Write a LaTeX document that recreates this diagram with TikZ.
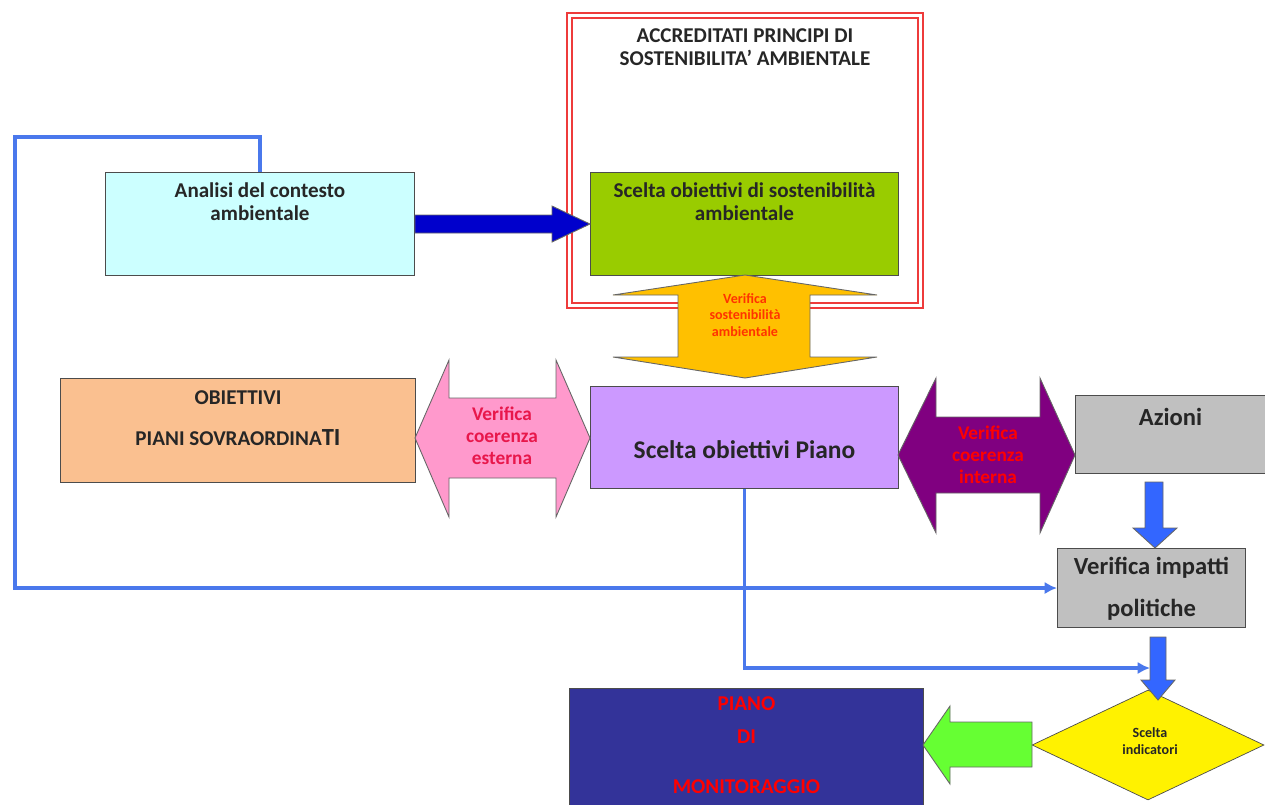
\documentclass[tikz,border=0pt]{standalone}
\usepackage{fontspec}
\setmainfont{Carlito}
\usetikzlibrary{calc,shapes.geometric,arrows.meta}

\definecolor{cyanbox}{HTML}{CCFFFF}
\definecolor{greenbox}{HTML}{99CC00}
\definecolor{lilacbox}{HTML}{CC99FF}
\definecolor{peachbox}{HTML}{FAC090}
\definecolor{greybox}{HTML}{C0C0C0}
\definecolor{navybox}{HTML}{333399}
\definecolor{goldarrow}{HTML}{FFC000}
\definecolor{pinkarrow}{HTML}{FF99CC}
\definecolor{plumarrow}{HTML}{800080}
\definecolor{limearrow}{HTML}{66FF33}
\definecolor{deepblue}{HTML}{0000CC}
\definecolor{downblue}{HTML}{3366FF}
\definecolor{linkblue}{HTML}{4A78EC}
\definecolor{framered}{HTML}{EE3B3B}
\definecolor{crimsontxt}{HTML}{E8174B}
\definecolor{orangetxt}{HTML}{FF3300}

\begin{document}
\begin{tikzpicture}[
    x=0.02cm, y=-0.02cm,
    box/.style={
        draw=black!70,
        line width=0.6pt,
        anchor=north west,
        inner sep=0pt
    },
    lbl/.style={
        font=\fontsize{12}{13}\selectfont\bfseries,
        align=center,
        text=black!85
    },
    small/.style={
        font=\fontsize{11}{12.5}\selectfont\bfseries,
        align=center
    },
    fat/.style={
        draw=black!60,
        line width=0.5pt
    },
    link/.style={
        draw=linkblue,
        line width=2pt,
        -{Latex[length=7pt,width=7pt]}
    }
]
\useasboundingbox (0,0) rectangle (1265,805);

% Frame of the principles
\node[draw=framered, line width=1.1pt, double=white, double distance=1.6pt,
      minimum width=7.02cm, minimum height=5.8cm] (frame) at (745,160.5) {};
\node[lbl] (frame-txt) at (745,47) {ACCREDITATI PRINCIPI DI\\SOSTENIBILITA' AMBIENTALE};

% Top row
\node[box, fill=cyanbox, minimum width=6.18cm, minimum height=2.06cm] (cyan) at (105,172) {};
\node[lbl] (cyan-txt) at ($(cyan.north)+(0,30)$) {Analisi del contesto\\ambientale};

\node[box, fill=greenbox, minimum width=6.16cm, minimum height=2.06cm] (green) at (590,172) {};
\node[lbl] (green-txt) at ($(green.north)+(0,30)$) {Scelta obiettivi di sostenibilità\\ambientale};

% Middle row
\node[box, fill=peachbox, minimum width=7.1cm, minimum height=2.08cm] (peach) at (60,378) {};
\node[lbl] (peach-txt) at ($(peach.north)+(0,40)$) {OBIETTIVI\\[10pt]PIANI SOVRAORDINA{\fontsize{14}{14}\selectfont TI}};

\node[box, fill=lilacbox, minimum width=6.16cm, minimum height=2.04cm] (piano) at (590,386) {};
\node[lbl, font=\fontsize{14.5}{16}\selectfont\bfseries] (piano-txt) at ($(piano.center)+(0,12)$) {Scelta obiettivi Piano};

\node[box, fill=greybox, minimum width=4cm, minimum height=1.56cm] (azioni) at (1075,395) {};
\node[lbl, font=\fontsize{14}{15}\selectfont\bfseries] (azioni-txt) at ($(azioni.north)+(-5,22)$) {Azioni};

% Lower right
\node[box, fill=greybox, minimum width=3.76cm, minimum height=1.58cm] (impatti) at (1057,548) {};
\node[lbl, font=\fontsize{14}{15}\selectfont\bfseries] (impatti-txt) at ($(impatti.north)+(0,41)$) {Verifica impatti\\[9pt]politiche};

\node[diamond, draw=black!70, fill=yellow, minimum width=4.64cm, minimum height=2.2cm,
      inner sep=0pt] (indic) at (1148,745) {};
\node[lbl, font=\fontsize{8}{9.5}\selectfont\bfseries] (indic-txt) at (1150,741) {Scelta\\indicatori};

\node[box, fill=navybox, minimum width=7.08cm, minimum height=2.6cm] (monit) at (569,688) {};
\node[lbl, text=red] (monit-txt) at ($(monit.north)+(0,57)$) {PIANO\\[6pt]DI\\[15pt]MONITORAGGIO};

% Fat arrows
\fill[fat, fill=deepblue] ($(cyan.east)+(0,-9)$) -- ($(green.west)+(-38,-9)$) -- ++(0,-9)
    -- (green.west) -- ++(-38,18) -- ++(0,-9) -- ($(cyan.east)+(0,9)$) -- cycle;

\filldraw[fat, fill=goldarrow] (745,275) -- (877,295) -- (810,295) -- (810,357) -- (877,357)
    -- (745,378) -- (613,357) -- (678,357) -- (678,295) -- (613,295) -- cycle;
\node[small, font=\fontsize{8}{9.6}\selectfont\bfseries, text=orangetxt] (sost-txt) at (745,315)
    {Verifica\\sostenibilità\\ambientale};

\filldraw[fat, fill=pinkarrow] (415,438) -- (449,360) -- (449,398) -- (556,398) -- (556,360)
    -- (590,438) -- (556,517) -- (556,478) -- (449,478) -- (449,517) -- cycle;
\node[small, text=crimsontxt] (ext-txt) at (502,436) {Verifica\\coerenza\\esterna};

\filldraw[fat, fill=plumarrow] (898,455) -- (936,378) -- (936,417) -- (1040,417) -- (1040,378)
    -- (1075,455) -- (1040,533) -- (1040,493) -- (936,493) -- (936,533) -- cycle;
\node[small, text=red] (int-txt) at (988,455) {Verifica\\coerenza\\interna};

\filldraw[fat, fill=downblue] (1145,482) -- (1163,482) -- (1163,528) -- (1177,528) -- (1155,548)
    -- (1133,528) -- (1145,528) -- cycle;
\filldraw[fat, fill=downblue] (1150,637) -- (1166,637) -- (1166,680) -- (1175,680) -- (1158,700)
    -- (1141,680) -- (1150,680) -- cycle;

\filldraw[fat, fill=limearrow] (923,745) -- (950,706) -- (950,722) -- (1032,722) -- (1032,767)
    -- (950,767) -- (950,784) -- cycle;

% Thin connectors
\coordinate (piano-end) at (1150,668);
\draw[link] (cyan.north) |- (15,137) |- (impatti.west);
\draw[link] (piano.south) |- (piano-end);

\end{tikzpicture}
\end{document}
